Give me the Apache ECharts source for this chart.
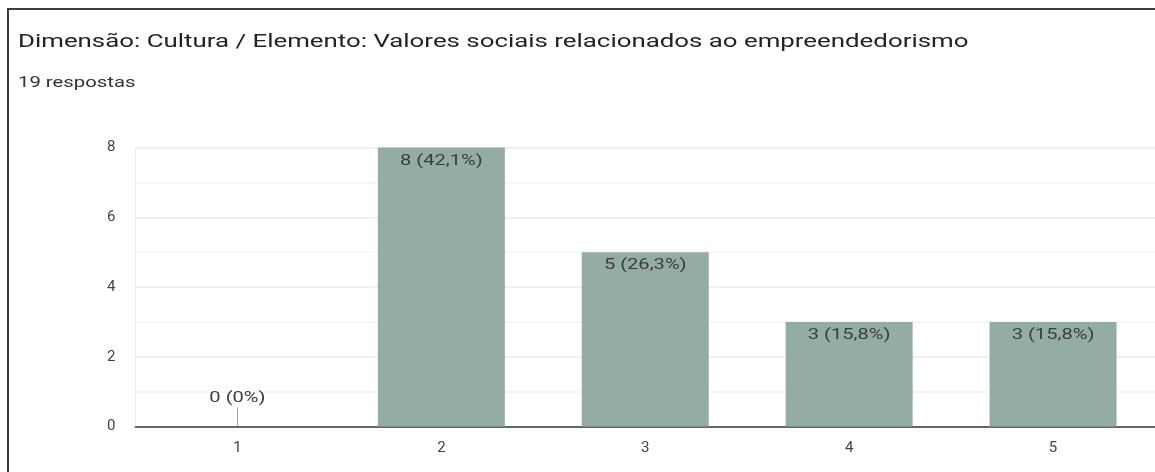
<!DOCTYPE html>
<html>
<head>
<meta charset="utf-8">
<script src="https://cdn.jsdelivr.net/npm/echarts@6/dist/echarts.min.js"></script>
<style>
  html, body { margin: 0; padding: 0; background: #fff; }
  #chart { width: 1155px; height: 472px; }
</style>
</head>
<body>
<div id="chart"></div>
<script>
// Escala de 1 a 5 e número de respostas em cada nível
const categories = ['1', '2', '3', '4', '5'];
const counts = [0, 8, 5, 3, 3];
const yTicks = [0, 2, 4, 6, 8];

const titleText = 'Dimensão: Cultura / Elemento: Valores sociais relacionados ao empreendedorismo';
const subtitleText = '19 respostas';

const total = counts.reduce((a, b) => a + b, 0);
// largura extra aplicada aos textos (fonte espaçada do formulário)
const WIDE = 1.34;

function pctLabel(v) {
  if (v === 0) return '0%';
  return (v / total * 100).toFixed(1).replace('.', ',') + '%';
}

const chart = echarts.init(document.getElementById('chart'));

chart.setOption({
  animation: false,
  textStyle: { fontFamily: 'Roboto' },
  graphic: [
    // moldura do cartão (bordas esquerda e superior)
    { type: 'rect', shape: { x: 7, y: 8, width: 2, height: 472 }, style: { fill: '#3c3c3c' } },
    { type: 'rect', shape: { x: 7, y: 8, width: 1160, height: 2 }, style: { fill: '#3c3c3c' } },
    {
      type: 'text', x: 18, y: 42, originX: 0, scaleX: 1.36,
      style: {
        text: titleText, fontFamily: 'Roboto', fontSize: 19,
        fill: '#222', verticalAlign: 'middle', align: 'left'
      }
    },
    {
      type: 'text', x: 18, y: 83, originX: 0, scaleX: 1.45,
      style: {
        text: subtitleText, fontFamily: 'Roboto', fontSize: 14,
        fill: '#333', verticalAlign: 'middle', align: 'left'
      }
    }
  ],
  grid: { left: 135.5, top: 147.5, width: 1026, height: 279 },
  xAxis: {
    type: 'category',
    data: categories,
    axisLine: { lineStyle: { color: '#666', width: 2 } },
    axisTick: { show: false },
    axisLabel: { color: '#444', fontSize: 15, margin: 14 }
  },
  yAxis: {
    type: 'value',
    min: yTicks[0],
    max: yTicks[yTicks.length - 1],
    interval: 2,
    axisLine: { show: true, lineStyle: { color: '#eeeeee', width: 1 } },
    axisTick: { show: false },
    axisLabel: { color: '#444', fontSize: 15, margin: 20 },
    splitLine: { lineStyle: { color: '#ececec', width: 1.5 } },
    minorTick: { show: false, splitNumber: 2 },
    minorSplitLine: { show: true, lineStyle: { color: '#f4f4f4', width: 1.5 } }
  },
  series: [
    {
      type: 'bar',
      data: counts,
      barWidth: 127,
      itemStyle: { color: '#93ada6' },
      z: 2
    },
    {
      // rótulos "n (x%)" e traço indicador para categorias sem respostas
      type: 'custom',
      data: counts.map((v, i) => [i, v]),
      renderItem: (params, api) => {
        const v = api.value(1);
        const top = api.coord([api.value(0), v]);
        const text = v + ' (' + pctLabel(v) + ')';
        const children = [];
        if (v === 0) {
          children.push({
            type: 'line',
            shape: { x1: top[0], y1: top[1] - 1, x2: top[0], y2: top[1] - 19 },
            style: { stroke: '#999', lineWidth: 1 }
          });
          children.push({
            type: 'text', x: top[0], y: top[1] - 21, originX: 0, scaleX: WIDE,
            style: { text, fontFamily: 'Roboto', fontSize: 15, fill: '#3d3d3d', align: 'center', verticalAlign: 'bottom' }
          });
        } else {
          children.push({
            type: 'text', x: top[0], y: top[1] + 6, originX: 0, scaleX: WIDE,
            style: { text, fontFamily: 'Roboto', fontSize: 15, fill: '#3d3d3d', align: 'center', verticalAlign: 'top' }
          });
        }
        return { type: 'group', children };
      },
      z: 3
    }
  ]
});
</script>
</body>
</html>
